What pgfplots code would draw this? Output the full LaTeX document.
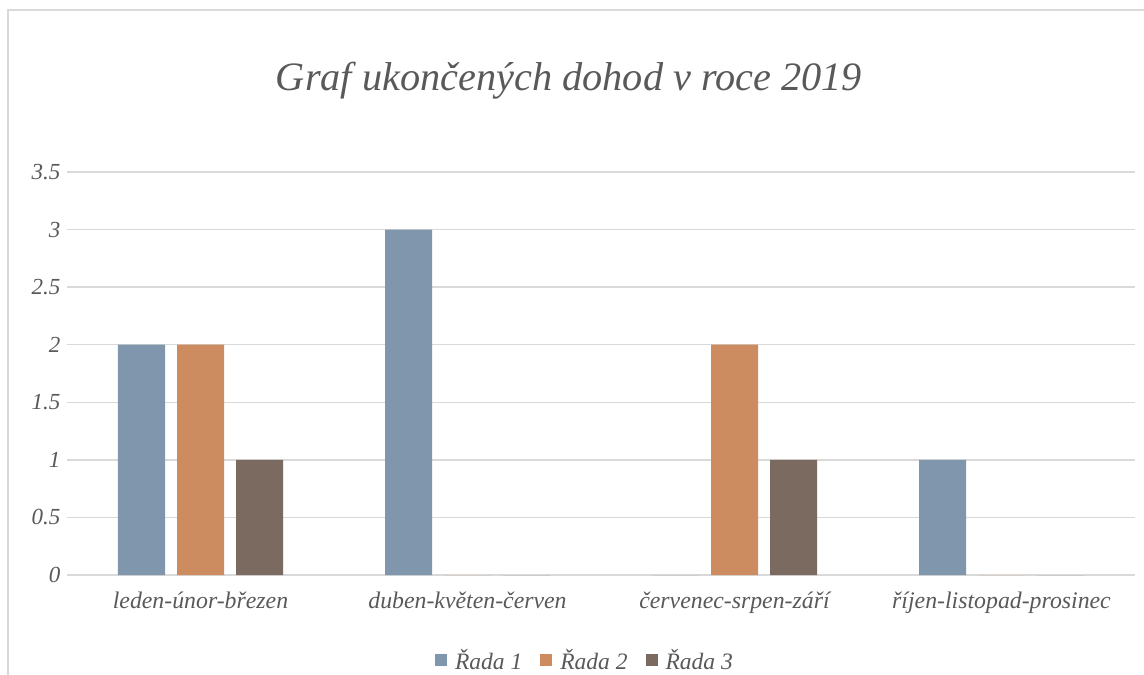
\documentclass[border=0pt]{standalone}
\usepackage{fontspec}
\setmainfont{Liberation Serif}
\usepackage{pgfplots}
\pgfplotsset{compat=1.18}
\definecolor{txt}{HTML}{595959}
\definecolor{cA}{RGB}{127,150,173}
\definecolor{cB}{RGB}{205,140,95}
\definecolor{cC}{RGB}{122,106,95}
\definecolor{gridc}{RGB}{217,217,217}
\begin{document}
\begin{tikzpicture}[x=1pt,y=1pt]
\useasboundingbox (0,0) rectangle (1144,-675);
\draw[color=gridc, line width=1.3pt] (8,-675) -- (8,-10) -- (1144,-10);
\node[text=txt, font=\fontsize{40.3}{42}\selectfont\itshape] at (569,-81) {Graf ukončených dohod v roce 2019};
\begin{axis}[
  at={(67pt,-575pt)}, anchor=south west,
  scale only axis, width=1068pt, height=403pt,
  ybar=12pt, bar width=47pt,
  xmin=-0.5, xmax=3.5, ymin=0, ymax=3.5,
  xtick={0,1,2,3},
  xticklabels={leden-únor-březen, duben-květen-červen, červenec-srpen-září, říjen-listopad-prosinec},
  ytick={0,0.5,1,1.5,2,2.5,3,3.5},
  yticklabels={0,0.5,1,1.5,2,2.5,3,3.5},
  axis line style={draw=none},
  major tick length=0pt,
  ymajorgrids, grid style={gridc, line width=1.3pt},
  xticklabel style={text=txt, font=\fontsize{23.8}{25}\selectfont\itshape, yshift=-13pt},
  yticklabel style={text=txt, font=\fontsize{23}{25}\selectfont\itshape, xshift=-3pt},
  legend style={draw=none, at={(axis description cs:0.485,-0.211)}, anchor=center,
    legend columns=3, font=\fontsize{23.5}{25}\selectfont\itshape, text=txt,
    /tikz/every odd column/.append style={column sep=6pt},
    /tikz/every even column/.append style={column sep=16pt}},
  legend image code/.code={\fill[#1] (0pt,-6pt) rectangle (12pt,6pt);},
]
\addplot[fill=cA, draw=none] coordinates {(0,2) (1,3) (2,0) (3,1)};
\addplot[fill=cB, draw=none] coordinates {(0,2) (1,0) (2,2) (3,0)};
\addplot[fill=cC, draw=none] coordinates {(0,1) (1,0) (2,1) (3,0)};
\legend{Řada 1, Řada 2, Řada 3}
\end{axis}
\end{tikzpicture}
\end{document}
